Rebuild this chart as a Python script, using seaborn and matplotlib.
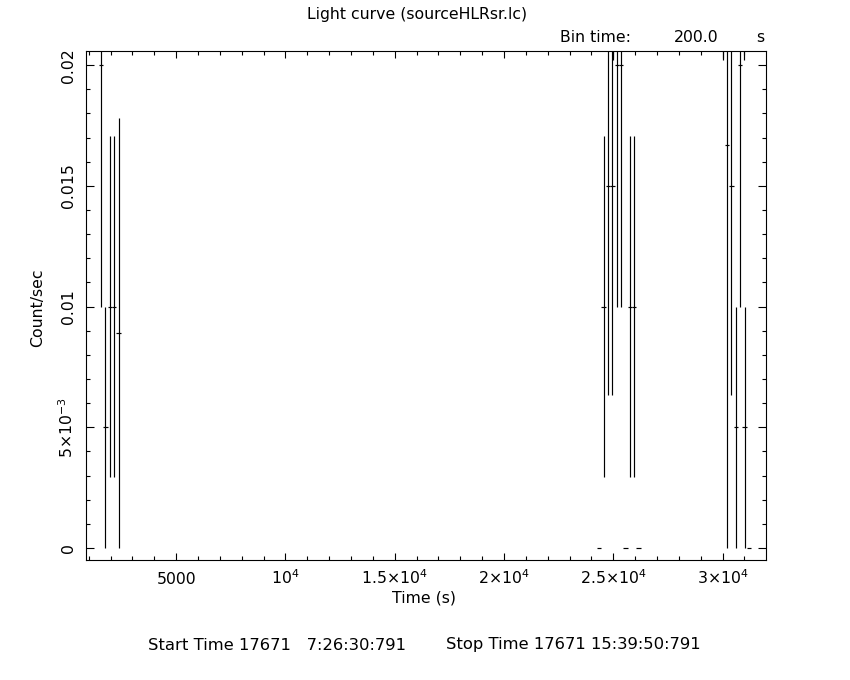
import numpy as np
import pandas as pd
import matplotlib
matplotlib.use("Agg")
import matplotlib.pyplot as plt
import seaborn as sns
from matplotlib.ticker import FixedLocator, MultipleLocator

# Light curve bins (200 s)
time_s = [1570, 1770, 1970, 2170, 2370,
          24356, 24556, 24756, 24956, 25000, 25156, 25356, 25556, 25756, 25956, 26156,
          30002, 30202, 30402, 30602, 30802, 30990, 31002, 31202]
rate = [0.02, 0.005, 0.01, 0.01, 0.0089,
        0.0, 0.01, 0.015, 0.015, 0.0404, 0.02, 0.02, 0.0, 0.01, 0.01, 0.0,
        0.0404, 0.0167, 0.015, 0.005, 0.02, 0.0404, 0.005, 0.0]
rate_err = [0.01, 0.005, 0.00707, 0.00707, 0.0089,
            0.0, 0.00707, 0.00866, 0.00866, 0.0202, 0.01, 0.01, 0.0, 0.00707, 0.00707, 0.0,
            0.0202, 0.0167, 0.00866, 0.005, 0.01, 0.0202, 0.005, 0.0]
half_bin = 100

x_ticks = [5000, 10000, 15000, 20000, 25000, 30000]
x_ticklabels = ["5000", r"$10^4$", r"$1.5{\times}10^4$", r"$2{\times}10^4$",
                r"$2.5{\times}10^4$", r"$3{\times}10^4$"]
y_ticks = [0, 0.005, 0.01, 0.015, 0.02]
y_ticklabels = ["0", r"$5{\times}10^{-3}$", "0.01", "0.015", "0.02"]

df = pd.DataFrame({"time": time_s, "rate": rate, "err": rate_err})

sns.set_theme(style="ticks")
plt.rcParams["font.family"] = ["DejaVu Sans"]
plt.rcParams["mathtext.fontset"] = "dejavusans"
plt.rcParams["axes.linewidth"] = 0.8
for key in ["text.color", "axes.edgecolor", "axes.labelcolor", "xtick.color",
            "ytick.color", "xtick.labelcolor", "ytick.labelcolor"]:
    plt.rcParams[key] = "black"
fs = 11.3

fig = plt.figure(figsize=(8.5, 6.8), dpi=100)
fig.patch.set_facecolor("white")
ax = fig.add_axes([86 / 850, 1 - 560 / 680, 680 / 850, 509.3 / 680])
ax.set_facecolor("white")

ax.errorbar(df["time"], df["rate"], yerr=df["err"], xerr=half_bin,
            fmt="none", ecolor="black", elinewidth=0.85, capsize=0)

ax.set_xlim(878, 31985)
ax.set_ylim(-0.0005, 0.0206)

ax.xaxis.set_major_locator(FixedLocator(x_ticks))
ax.xaxis.set_minor_locator(MultipleLocator(1000))
ax.yaxis.set_major_locator(FixedLocator(y_ticks))
ax.yaxis.set_minor_locator(MultipleLocator(0.001))
ax.set_xticklabels(x_ticklabels, fontsize=fs)
ax.set_yticklabels(y_ticklabels, fontsize=fs, rotation=90)

ax.tick_params(axis="both", which="both", direction="in", top=True, right=True,
               color="black", width=0.8)
ax.tick_params(axis="x", which="major", length=5, pad=17)
ax.tick_params(axis="x", which="minor", length=2.6)
ax.tick_params(axis="y", which="major", length=5.8, pad=7.5)
ax.tick_params(axis="y", which="minor", length=2.9)
for lab in ax.get_xticklabels():
    lab.set_va("baseline")
for lab in ax.get_yticklabels():
    lab.set_va("center")
    lab.set_ha("right")

fig.text(417 / 850, 1 - 14 / 680, "Light curve (sourceHLRsr.lc)", ha="center", va="center", fontsize=fs)
fig.text(560 / 850, 1 - 38 / 680, "Bin time:", ha="left", va="center", fontsize=fs)
fig.text(674 / 850, 1 - 38 / 680, "200.0", ha="left", va="center", fontsize=fs)
fig.text(756 / 850, 1 - 38 / 680, "s", ha="left", va="center", fontsize=fs)
fig.text(424 / 850, 1 - 598 / 680, "Time (s)", ha="center", va="center", fontsize=fs)
fig.text(38 / 850, 1 - 308 / 680, "Count/sec", ha="center", va="center", rotation=90, fontsize=fs)
fig.text(148 / 850, 1 - 645 / 680, "Start Time 17671   7:26:30:791", ha="left", va="center", fontsize=11.8)
fig.text(446 / 850, 1 - 645 / 680, "Stop Time 17671 15:39:50:791", ha="left", va="center", fontsize=11.8)

fig.savefig("out.png", dpi=100, facecolor="white")
